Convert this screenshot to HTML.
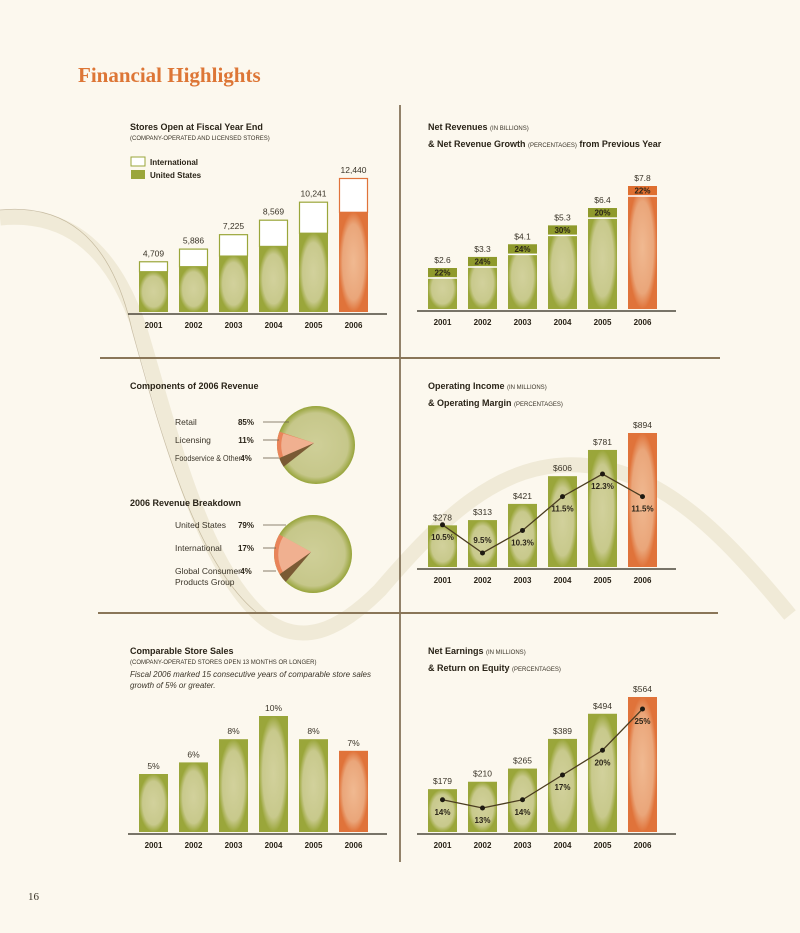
<!DOCTYPE html>
<html><head><meta charset="utf-8">
<style>
html,body{margin:0;padding:0;background:#fcf8ee;}
svg{display:block;font-family:"Liberation Sans Narrow","Liberation Sans",sans-serif;}
.t{font-weight:bold;font-size:9px;fill:#2a2418;}
.s{font-size:6px;fill:#3a3428;}
.yr{font-weight:bold;font-size:8px;fill:#2a2418;text-anchor:middle;}
.v{font-size:8.5px;fill:#3a3428;text-anchor:middle;}
.p{font-weight:bold;font-size:8px;fill:#2a2418;text-anchor:middle;}
.lb{font-size:8.5px;fill:#3a3428;}
</style></head>
<body>
<svg id="chart" width="800" height="933" viewBox="0 0 800 933">
<defs>
<radialGradient id="gG" cx="50%" cy="50%" r="50%" fx="50%" fy="50%"><stop offset="0" stop-color="#d2d19c"/><stop offset="0.75" stop-color="#c8c98c"/><stop offset="1" stop-color="#9aa63a"/></radialGradient>
<radialGradient id="gO" cx="50%" cy="50%" r="50%"><stop offset="0" stop-color="#f0b991"/><stop offset="0.75" stop-color="#eaa67a"/><stop offset="1" stop-color="#e0733a"/></radialGradient>
<radialGradient id="gP" cx="50%" cy="50%" r="50%"><stop offset="0" stop-color="#cfcf98"/><stop offset="0.82" stop-color="#c6c78a"/><stop offset="1" stop-color="#97a43a"/></radialGradient>
</defs>
<path d="M0,218 C60,212 110,240 140,330 C170,430 200,560 260,615 C300,650 340,630 380,590 C440,520 500,460 580,465 C660,470 720,530 790,615" fill="none" stroke="#e8e1c8" stroke-width="15" opacity="0.6"/>
<path d="M0,210 C60,204 110,232 132,330 C160,430 194,560 256,612" fill="none" stroke="#a89a78" stroke-width="0.7" opacity="0.6"/>
<text x="78" y="82" style="font-family:'Liberation Serif',serif;font-weight:bold;font-size:21px;fill:#dd7636;">Financial Highlights</text>
<line x1="400" y1="105" x2="400" y2="862" stroke="#6e5a3e" stroke-width="1.5"/>
<line x1="100" y1="358" x2="720" y2="358" stroke="#8a7658" stroke-width="2"/>
<line x1="98" y1="613" x2="718" y2="613" stroke="#8a7658" stroke-width="2"/>

<text class="t" x="130" y="130">Stores Open at Fiscal Year End</text>
<text class="s" x="130" y="140">(COMPANY-OPERATED AND LICENSED STORES)</text>
<rect x="131" y="157" width="14" height="9" fill="#fff" stroke="#9aa63a"/>
<text class="t" x="150" y="165" style="font-size:8px">International</text>
<rect x="131" y="170" width="14" height="9" fill="#9aa63a"/>
<text class="t" x="150" y="178" style="font-size:8px">United States</text>

<text class="t" x="428" y="130">Net Revenues <tspan class="s" style="font-weight:normal">(IN BILLIONS)</tspan></text>
<text class="t" x="428" y="147">&amp; Net Revenue Growth <tspan class="s" style="font-weight:normal">(PERCENTAGES)</tspan> from Previous Year</text>

<text class="t" x="130" y="389">Components of 2006 Revenue</text>
<text class="t" x="130" y="506">2006 Revenue Breakdown</text>

<text class="t" x="428" y="389">Operating Income <tspan class="s" style="font-weight:normal">(IN MILLIONS)</tspan></text>
<text class="t" x="428" y="406">&amp; Operating Margin <tspan class="s" style="font-weight:normal">(PERCENTAGES)</tspan></text>

<text class="t" x="130" y="654">Comparable Store Sales</text>
<text class="s" x="130" y="664">(COMPANY-OPERATED STORES OPEN 13 MONTHS OR LONGER)</text>
<text class="lb" x="130" y="677" style="font-style:italic;font-size:8px">Fiscal 2006 marked 15 consecutive years of comparable store sales</text>
<text class="lb" x="130" y="688" style="font-style:italic;font-size:8px">growth of 5% or greater.</text>

<text class="t" x="428" y="654">Net Earnings <tspan class="s" style="font-weight:normal">(IN MILLIONS)</tspan></text>
<text class="t" x="428" y="671">&amp; Return on Equity <tspan class="s" style="font-weight:normal">(PERCENTAGES)</tspan></text>

<text x="28" y="900" style="font-family:'Liberation Serif',serif;font-size:11px;fill:#3a3428">16</text>
<g id="marks"></g>
</svg>
<script>
const years = ['2001','2002','2003','2004','2005','2006'];
const storesTotal = [4709, 5886, 7225, 8569, 10241, 12440];
const storesUS = [3780, 4247, 5239, 6132, 7353, 9296];
const storesLabels = ['4,709','5,886','7,225','8,569','10,241','12,440'];
const revenue = [2.6, 3.3, 4.1, 5.3, 6.4, 7.8];
const revenueGrowth = [22, 24, 24, 30, 20, 22];
const opIncome = [278, 313, 421, 606, 781, 894];
const opMargin = [10.5, 9.5, 10.3, 11.5, 12.3, 11.5];
const comps = [5, 6, 8, 10, 8, 7];
const netEarnings = [179, 210, 265, 389, 494, 564];
const roe = [14, 13, 14, 17, 20, 25];
const componentLabels = ['Retail','Licensing','Foodservice & Other'];
const componentValues = [85, 11, 4];
const breakdownLabels = ['United States','International','Global Consumer|Products Group'];
const breakdownValues = [79, 17, 4];

const NS='http://www.w3.org/2000/svg';
const G=document.getElementById('marks');
function mk(tag,attrs,txt){const e=document.createElementNS(NS,tag);for(const k in attrs)e.setAttribute(k,attrs[k]);if(txt!==undefined)e.textContent=txt;G.appendChild(e);return e;}
const BW=29;
function xL(x0,i){return x0+i*40;}
function axis(x0,base,name){
  const a=mk('line',{x1:x0-11,y1:base+2,x2:x0+240+8,y2:base+2,stroke:'#2a2418','stroke-width':1.3});
  
  
  years.forEach((y,i)=>{const t=mk('text',{x:xL(x0,i)+BW/2,y:base+16,class:'yr'},y);
    
    });
}
function bar(x,top,base,orange,name){
  const r=mk('rect',{x:x,y:top,width:BW,height:base-top,fill:orange?'url(#gO)':'url(#gG)'});
  
  
  return r;
}
function label(x,y,txt,cls,name){const t=mk('text',{x:x,y:y,class:cls},txt);
  
  return t;}

// Chart 1: stores
(function(){const x0=139,base=312,sc=134/12440;
  storesTotal.forEach((v,i)=>{const x=xL(x0,i),top=base-v*sc,us=base-storesUS[i]*sc,o=i===5;
    const w=mk('rect',{x:x+0.5,y:top+0.5,width:BW-1,height:us-top,fill:'#fff',stroke:o?'#e0733a':'#9aa63a','stroke-width':1.2});
    
    
    bar(x,us,base,o,'stores-us-bar-'+years[i]);
    label(x+BW/2,top-5,storesLabels[i],'v','stores-label-'+years[i]);
  });axis(x0,base,'stores');})();

// Chart 2: revenue
(function(){const x0=428,base=309,sc=123/7.8;
  revenue.forEach((v,i)=>{const x=xL(x0,i),top=base-v*sc,o=i===5;
    bar(x,top,base,o,'revenue-bar-'+years[i]);
    const tg=mk('rect',{x:x,y:top,width:BW,height:9,fill:o?'#df6f30':'#8f9a2c'});
    
    
    const ln=mk('line',{x1:x,y1:top+10,x2:x+BW,y2:top+10,stroke:'#fff','stroke-width':1.5});
    
    
    label(x+BW/2,top+7.5,revenueGrowth[i]+'%','p','revenue-growth-'+years[i]);
    label(x+BW/2,top-5,'$'+v.toFixed(1),'v','revenue-label-'+years[i]);
  });axis(x0,base,'revenue');})();

// Pies
function pie(cx,cy,r,vals,labs,ys,name,startDeg){
  const c=mk('circle',{cx:cx,cy:cy,r:r,fill:'url(#gP)'});
  
  
  const cols=[null,'#e9845a','#7a5a34'];
  let a=startDeg;const ax=cx-2,ay=cy-2;
  for(let k=1;k<vals.length;k++){
    const sweep=vals[k]/100*360;const a1=a, a2=a-sweep;
    const p1=[cx+r*Math.cos(a1*Math.PI/180),cy+r*Math.sin(a1*Math.PI/180)];
    const p2=[cx+r*Math.cos(a2*Math.PI/180),cy+r*Math.sin(a2*Math.PI/180)];
    const s=mk('path',{d:`M${ax},${ay} L${p1[0]},${p1[1]} A${r},${r} 0 0 0 ${p2[0]},${p2[1]} Z`,fill:cols[k]});
    
    
    if(k===1){const h=mk('path',{d:`M${ax},${ay} L${p1[0]+4},${p1[1]+2} A${r-4},${r-4} 0 0 0 ${p2[0]+4},${p2[1]-1} Z`,fill:'#f0b090'});
      
      }
    a=a2;
  }
  vals.forEach((v,k)=>{const y=ys[k];
    const parts=labs[k].split('|');
    parts.forEach((p,j)=>{const t=label(175,y+3+j*11,p,'lb',name+'-label-'+k+(j?'b':''));
      if(t.getComputedTextLength()>66){t.setAttribute('textLength','66');t.setAttribute('lengthAdjust','spacingAndGlyphs');}});
    const pt=label(246,y+3,v+'%','p',name+'-pct-'+k);pt.setAttribute('text-anchor','start');
    const l=mk('line',{x1:263,y1:y,x2:cx-r+(k===0?12:2),y2:y,stroke:'#6a5e4a','stroke-width':0.8});
    
    
  });
}
pie(316,445,39,componentValues,componentLabels,[422,440,458],'components',200);
pie(313,554,39,breakdownValues,breakdownLabels,[525,548,571],'breakdown',210);

function lineSeries(x0,vals,yf,name){
  let d='';vals.forEach((v,i)=>{d+=(i?'L':'M')+(xL(x0,i)+BW/2)+','+yf(v);});
  const p=mk('path',{d:d,fill:'none',stroke:'#4a3c20','stroke-width':1.3});
  
  
  vals.forEach((v,i)=>{const c=mk('circle',{cx:xL(x0,i)+BW/2,cy:yf(v),r:2.5,fill:'#1e1a12'});
    
    });
}

// Chart 4: operating income
(function(){const x0=428,base=567,sc=134/894;
  opIncome.forEach((v,i)=>{const x=xL(x0,i),top=base-v*sc;
    bar(x,top,base,i===5,'opincome-bar-'+years[i]);
    label(x+BW/2,top-5,'$'+v,'v','opincome-label-'+years[i]);});
  const yf=p=>553-(p-9.5)*28.2;
  lineSeries(x0,opMargin,yf,'opmargin');
  opMargin.forEach((v,i)=>{const x=xL(x0,i)+BW/2;const y=(i===1)?yf(v)-10:yf(v)+15;
    label(x,y,v.toFixed(1)+'%','p','opmargin-label-'+years[i]);});
  axis(x0,base,'opincome');})();

// Chart 5: comps
(function(){const x0=139,base=832,sc=11.6;
  comps.forEach((v,i)=>{const x=xL(x0,i),top=base-v*sc;
    bar(x,top,base,i===5,'comps-bar-'+years[i]);
    label(x+BW/2,top-5,v+'%','v','comps-label-'+years[i]);});
  axis(x0,base,'comps');})();

// Chart 6: net earnings
(function(){const x0=428,base=832,sc=135/564;
  netEarnings.forEach((v,i)=>{const x=xL(x0,i),top=base-v*sc;
    bar(x,top,base,i===5,'earnings-bar-'+years[i]);
    label(x+BW/2,top-5,'$'+v,'v','earnings-label-'+years[i]);});
  const yf=p=>808-(p-13)*8.25;
  lineSeries(x0,roe,yf,'roe');
  roe.forEach((v,i)=>{const x=xL(x0,i)+BW/2;
    label(x,yf(v)+15,v+'%','p','roe-label-'+years[i]);});
  axis(x0,base,'earnings');})();
</script>
</body></html>
